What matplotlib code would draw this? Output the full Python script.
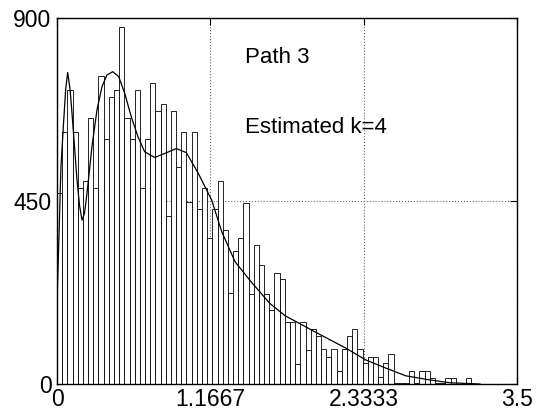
import numpy as np
import matplotlib
matplotlib.use("Agg")
import matplotlib.pyplot as plt

plt.rcParams['font.family'] = ['Liberation Sans', 'DejaVu Sans']
plt.rcParams['font.sans-serif'] = ['Liberation Sans']

# Histogram counts (80 equal-width bins starting at 0)
bin_width = 0.0394
counts = [470, 620, 723, 620, 481, 498, 653, 481, 757, 603,
          707, 723, 879, 653, 603, 723, 481, 603, 740, 671,
          688, 413, 671, 534, 619, 447, 619, 431, 481, 360,
          431, 499, 379, 223, 326, 360, 446, 222, 343, 292,
          222, 183, 274, 257, 153, 153, 50, 153, 84, 135,
          119, 85, 67, 85, 33, 85, 119, 136, 85, 51,
          67, 67, 16, 51, 75, 2, 2, 2, 33, 2,
          33, 33, 14, 2, 2, 14, 14, 0, 0, 14]

# Fitted density curve
curve_x = [0.0, 0.030, 0.051, 0.066, 0.081, 0.099, 0.114, 0.152, 0.171, 0.190,
           0.209, 0.228, 0.266, 0.304, 0.342, 0.380, 0.424, 0.469, 0.515, 0.565,
           0.616, 0.667, 0.743, 0.820, 0.908, 0.984, 1.075, 1.177, 1.253, 1.354,
           1.480, 1.620, 1.735, 1.976, 2.199, 2.351, 2.503, 2.655, 2.838, 2.990,
           3.218]
curve_y = [199, 534, 649, 725, 766, 725, 666, 502, 440, 403,
           420, 469, 584, 674, 731, 760, 768, 756, 715, 657,
           608, 571, 557, 567, 579, 569, 518, 452, 375, 301,
           250, 198, 168, 126, 88, 59, 39, 20, 10, 3,
           0]

x_ticks = [0, 1.1667, 2.3333, 3.5]
x_tick_labels = ['0', '1.1667', '2.3333', '3.5']
y_ticks = [0, 450, 900]

fig = plt.figure(figsize=(5.4, 4.2), dpi=100)
ax = fig.add_axes([0.1056, 0.0857, 0.8518, 0.8714])

edges = np.arange(len(counts)) * bin_width
ax.bar(edges, counts, width=bin_width, align='edge', color='white',
       edgecolor='black', linewidth=0.6)
ax.plot(curve_x, curve_y, color='black', linewidth=0.9)

ax.text(1.43, 802, 'Path 3', fontsize=16, va='center', ha='left')
ax.text(1.43, 630, 'Estimated k=4', fontsize=16, va='center', ha='left')

ax.set_xlim(0, 3.5)
ax.set_ylim(0, 900)
ax.set_xticks(x_ticks)
ax.set_xticklabels(x_tick_labels)
ax.set_yticks(y_ticks)
ax.tick_params(direction='in', length=5, top=True, right=True,
               labelsize=16.5, width=0.8)
ax.tick_params(axis='x', pad=3)
ax.tick_params(axis='y', pad=4)
for lab in ax.get_xticklabels() + ax.get_yticklabels():
    lab.set_fontfamily('Liberation Sans')
ax.grid(True, linestyle=':', color='0.4', linewidth=0.8)
ax.set_axisbelow(True)
for s in ax.spines.values():
    s.set_linewidth(1.0)

fig.savefig('out.png', dpi=100)
